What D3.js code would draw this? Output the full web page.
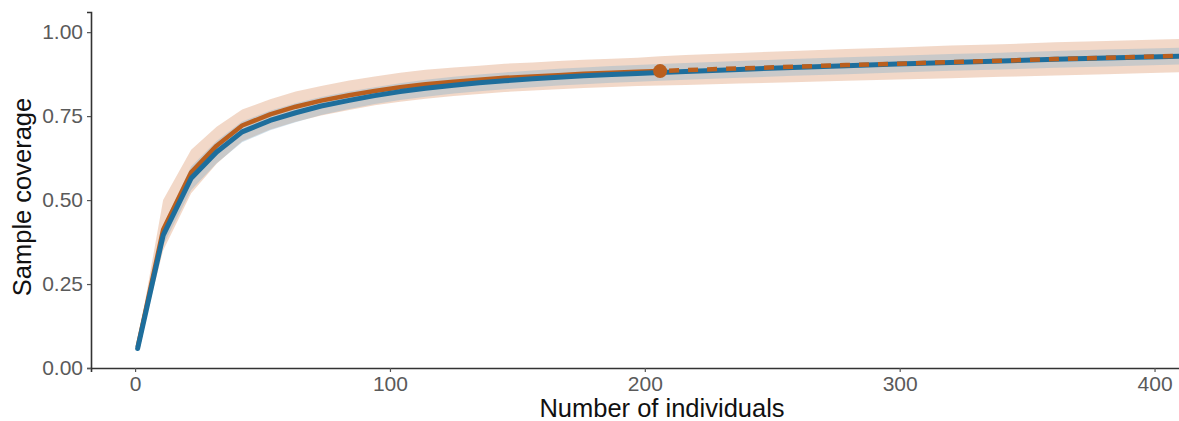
<!DOCTYPE html>
<html><head><meta charset="utf-8">
<script src="https://cdn.jsdelivr.net/npm/d3@7"></script>
<style>body{margin:0;background:#fff}svg{display:block}text{font-family:"Liberation Sans",Arial,sans-serif}</style>
</head><body><svg id="c" width="1179" height="421"></svg>
<script>
// sample sizes (number of individuals)
const sizes = [1, 11, 22, 32, 42, 53, 63, 73, 84, 94, 104, 114, 125, 135, 145, 156, 166, 176, 187, 197, 206,
               216, 237, 258, 279, 299, 320, 340, 361, 381, 402, 412];
// orange assemblage (observed size 206, then extrapolated)
const orangeCov   = [0.062, 0.412, 0.583, 0.662, 0.722, 0.755, 0.778, 0.796, 0.812, 0.825, 0.836, 0.845, 0.852, 0.858, 0.864, 0.868, 0.872, 0.876, 0.879, 0.882, 0.884,
                     0.887, 0.892, 0.897, 0.902, 0.906, 0.911, 0.915, 0.92, 0.924, 0.928, 0.93];
const orangeLow   = [0.05, 0.35, 0.52, 0.608, 0.675, 0.71, 0.733, 0.752, 0.768, 0.782, 0.793, 0.802, 0.81, 0.816, 0.822, 0.826, 0.83, 0.834, 0.837, 0.84, 0.841,
                     0.843, 0.847, 0.851, 0.855, 0.859, 0.863, 0.867, 0.871, 0.875, 0.879, 0.881];
const orangeHigh  = [0.075, 0.50, 0.65, 0.718, 0.77, 0.8, 0.823, 0.84, 0.856, 0.868, 0.879, 0.888, 0.895, 0.9, 0.906, 0.91, 0.914, 0.918, 0.921, 0.924, 0.928,
                     0.932, 0.938, 0.944, 0.95, 0.954, 0.96, 0.964, 0.97, 0.974, 0.978, 0.98];
// blue assemblage
const blueCov     = [0.058, 0.395, 0.565, 0.643, 0.703, 0.737, 0.76, 0.78, 0.797, 0.811, 0.823, 0.833, 0.842, 0.849, 0.855, 0.861, 0.866, 0.87, 0.874, 0.877, 0.88,
                     0.883, 0.889, 0.895, 0.9, 0.905, 0.91, 0.914, 0.919, 0.923, 0.927, 0.929];
const blueLow     = [0.052, 0.365, 0.53, 0.61, 0.672, 0.708, 0.732, 0.753, 0.771, 0.786, 0.798, 0.808, 0.817, 0.824, 0.83, 0.836, 0.841, 0.845, 0.849, 0.852, 0.855,
                     0.858, 0.864, 0.87, 0.875, 0.88, 0.885, 0.889, 0.894, 0.898, 0.902, 0.904];
const blueHigh    = [0.064, 0.425, 0.6, 0.676, 0.734, 0.766, 0.788, 0.807, 0.823, 0.836, 0.848, 0.858, 0.867, 0.874, 0.88, 0.886, 0.891, 0.895, 0.899, 0.902, 0.905,
                     0.908, 0.914, 0.92, 0.925, 0.93, 0.935, 0.939, 0.944, 0.948, 0.952, 0.954];
const observedSize = 206;
const observedCov = 0.884;
const xTicks = [0, 100, 200, 300, 400];
const yTicks = [0, 0.25, 0.5, 0.75, 1.0];

const svg = d3.select("#c");
const left = 91, bottom = 368;
const x = d3.scaleLinear().domain([-17.3, 430]).range([left, 1231]);
const y = d3.scaleLinear().domain([0, 1.06]).range([bottom, 12]);

const ORANGE = "#BA5F1E", BLUE = "#1E6E9C";

const rows = sizes.map((s, i) => ({s, oc: orangeCov[i], ol: orangeLow[i], oh: orangeHigh[i],
                                    bc: blueCov[i], bl: blueLow[i], bh: blueHigh[i]}));

const defs = svg.append("defs");
defs.append("clipPath").attr("id", "clip").append("rect")
  .attr("x", left).attr("y", 0).attr("width", 1179 - left).attr("height", bottom);
const g = svg.append("g").attr("clip-path", "url(#clip)");

const area = (lo, hi) => d3.area().x(d => x(d.s)).y0(d => y(d[lo])).y1(d => y(d[hi]));
g.append("path").datum(rows).attr("d", area("ol", "oh")).attr("fill", "#D98A58").attr("fill-opacity", 0.33);
g.append("path").datum(rows).attr("d", area("bl", "bh")).attr("fill", "#86B0CA").attr("fill-opacity", 0.38);

const line = key => d3.line().x(d => x(d.s)).y(d => y(d[key]));
g.append("path").datum(rows.filter(d => d.s <= observedSize)).attr("d", line("oc")).attr("fill", "none")
  .attr("stroke", ORANGE).attr("stroke-width", 4.5).attr("stroke-linejoin", "round");
g.append("path").datum(rows).attr("d", line("bc")).attr("fill", "none")
  .attr("stroke", BLUE).attr("stroke-width", 5).attr("stroke-linejoin", "round").attr("stroke-linecap", "round");
g.append("path").datum(rows.filter(d => d.s >= observedSize)).attr("d", line("oc")).attr("fill", "none")
  .attr("stroke", ORANGE).attr("stroke-width", 4.5).attr("stroke-dasharray", "10,9").attr("stroke-dashoffset", -9);
g.append("circle").attr("cx", x(observedSize)).attr("cy", y(observedCov)).attr("r", 7).attr("fill", ORANGE);

// axes
const xa = svg.append("g").attr("transform", `translate(0,${bottom})`)
  .call(d3.axisBottom(x).tickValues(xTicks).tickSize(4).tickPadding(4).tickFormat(d3.format("d")));
const ya = svg.append("g").attr("transform", `translate(${left},0)`)
  .call(d3.axisLeft(y).tickValues(yTicks).tickSize(4).tickPadding(4).tickFormat(d3.format(".2f")));
[xa, ya].forEach(a => {
  a.select(".domain").attr("stroke", "#333").attr("stroke-width", 1.6);
  a.selectAll(".tick line").attr("stroke", "#555").attr("stroke-width", 1.2);
  a.selectAll(".tick text").attr("fill", "#5a5a5a").attr("font-size", 21);
});

svg.append("text").attr("x", 662).attr("y", 417).attr("text-anchor", "middle")
  .attr("font-size", 25.5).attr("fill", "#111").text("Number of individuals");
svg.append("text").attr("transform", "translate(31,197) rotate(-90)").attr("text-anchor", "middle")
  .attr("font-size", 25.5).attr("fill", "#111").text("Sample coverage");
</script></body></html>
